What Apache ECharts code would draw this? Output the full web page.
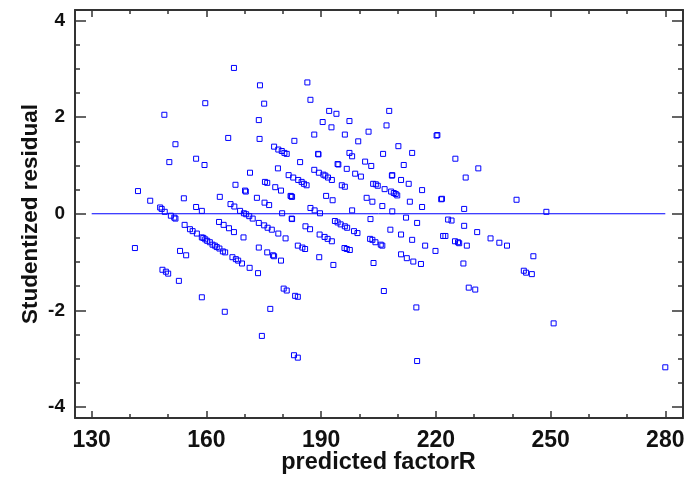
<!DOCTYPE html>
<html>
<head>
<meta charset="utf-8">
<script src="https://cdn.jsdelivr.net/npm/echarts@6/dist/echarts.min.js"></script>
<style>
html,body{margin:0;padding:0;background:#fff;}
#chart{width:685px;height:481px;}
</style>
</head>
<body>
<div id="chart"></div>
<script>
// predicted factorR (x) and studentized residual (y)
var predictedX = [
159.7,149.0,173.7,165.7,173.9,151.9,150.3,157.3,159.5,171.4,167.6,142.1,170.1,170.3,145.3,154.1,163.5,173.2,147.9,157.3,
166.3,167.3,148.3,149.1,158.8,168.8,169.8,170.4,171.2,172.1,150.7,151.6,151.9,163.3,164.5,173.7,154.3,155.7,156.4,157.5,
165.9,167.2,158.8,159.2,159.7,160.2,160.9,161.6,162.2,162.7,163.4,169.7,141.3,173.7,164.3,164.9,153.1,154.7,166.8,167.7,
168.3,169.3,171.3,173.5,148.5,149.4,150.0,152.8,158.8,164.8,174.0,186.4,175.1,187.2,192.1,194.0,190.4,197.4,192.7,202.4,
188.2,196.2,183.0,199.7,177.7,178.8,179.7,180.4,181.0,189.2,189.3,197.4,198.1,184.5,194.3,194.5,201.5,203.1,178.7,188.2,
189.4,190.6,191.1,191.8,192.8,196.7,181.5,182.7,184.0,184.9,185.5,186.2,198.9,200.4,175.3,175.9,195.4,196.2,203.6,204.3,
204.8,178.0,179.5,182.0,182.4,182.2,191.3,193.0,201.9,203.4,175.2,176.4,187.2,188.3,189.7,179.8,198.1,182.3,182.4,175.1,
176.0,177.1,185.9,187.1,193.6,194.3,195.1,196.2,196.8,202.9,178.8,198.6,199.5,180.7,189.6,190.9,191.7,192.8,202.8,203.4,
204.2,183.9,185.1,185.8,196.1,196.7,197.5,175.9,177.4,177.7,189.5,179.5,193.2,203.7,180.2,181.0,183.2,183.9,176.7,174.5,
182.9,183.9,207.8,207.1,220.2,220.4,210.2,206.2,213.8,225.1,211.6,231.1,208.5,208.6,227.8,210.9,212.9,206.6,216.4,208.3,
209.0,209.5,209.9,221.4,221.6,213.2,206.0,216.4,227.4,208.6,212.2,215.1,223.2,224.1,227.4,230.8,208.1,234.3,236.6,210.9,
205.6,206.0,213.8,217.2,221.9,222.5,225.0,225.8,226.1,228.1,219.9,210.9,212.4,214.1,216.1,227.2,206.4,228.6,230.3,214.9,
215.1,241.1,248.9,238.6,245.5,243.0,243.6,245.1,250.8,280.0,167.2
];
var residualY = [
2.29,2.05,1.94,1.57,1.55,1.44,1.07,1.14,1.01,0.85,0.60,0.47,0.48,0.46,0.27,0.32,0.35,0.33,0.13,0.14,
0.20,0.15,0.10,0.04,0.06,0.06,0.01,-0.01,-0.05,-0.10,-0.04,-0.08,-0.10,-0.17,-0.23,-0.19,-0.23,-0.32,-0.36,-0.41,
-0.30,-0.38,-0.49,-0.50,-0.53,-0.56,-0.59,-0.64,-0.66,-0.69,-0.72,-0.49,-0.71,-0.70,-0.78,-0.80,-0.77,-0.86,-0.90,-0.94,
-0.97,-1.03,-1.12,-1.23,-1.16,-1.20,-1.24,-1.39,-1.73,-2.03,2.66,2.72,2.28,2.36,2.13,2.07,1.90,1.92,1.79,1.70,
1.64,1.64,1.51,1.50,1.39,1.33,1.30,1.26,1.24,1.24,1.23,1.26,1.19,1.07,1.03,1.02,1.08,0.99,0.94,0.91,
0.85,0.81,0.79,0.75,0.70,0.93,0.80,0.75,0.70,0.66,0.62,0.59,0.83,0.77,0.66,0.64,0.59,0.56,0.62,0.61,
0.58,0.55,0.48,0.37,0.35,0.36,0.37,0.28,0.33,0.25,0.23,0.18,0.12,0.07,0.01,0.01,0.07,-0.10,-0.11,-0.24,
-0.29,-0.33,-0.26,-0.32,-0.15,-0.18,-0.22,-0.26,-0.29,-0.11,-0.41,-0.36,-0.40,-0.51,-0.43,-0.48,-0.52,-0.57,-0.52,-0.54,
-0.59,-0.66,-0.70,-0.73,-0.71,-0.73,-0.75,-0.80,-0.86,-0.88,-0.90,-0.97,-1.06,-1.02,-1.55,-1.59,-1.70,-1.72,-1.97,-2.53,
-2.93,-2.98,2.13,1.83,1.62,1.63,1.40,1.24,1.26,1.14,1.01,0.94,0.79,0.80,0.75,0.70,0.62,0.51,0.49,0.46,
0.43,0.41,0.38,0.30,0.31,0.25,0.16,0.14,0.10,0.05,-0.08,-0.19,-0.12,-0.14,-0.25,-0.38,-0.33,-0.51,-0.60,-0.43,
-0.64,-0.66,-0.54,-0.66,-0.46,-0.46,-0.57,-0.59,-0.61,-0.66,-0.77,-0.84,-0.92,-0.99,-1.04,-1.03,-1.60,-1.53,-1.57,-1.94,
-3.05,0.29,0.04,-0.66,-0.88,-1.18,-1.22,-1.25,-2.27,-3.18,3.02
];
var zeroLineX = [130, 280];
var zeroLineY = [0, 0];
var xTitle = 'predicted factorR';
var yTitle = 'Studentized residual';

var points = predictedX.map(function (x, i) { return [x, residualY[i]]; });
var zeroLine = zeroLineX.map(function (x, i) { return [x, zeroLineY[i]]; });

var FONT = '"Liberation Sans", Arial, sans-serif';
var AXIS_COLOR = '#333';
var TICK_X_MIN = 130, TICK_X_MAX = 280, X_STEP = 30;
var FRAME_X_MIN = 125.6, FRAME_X_MAX = 284.7;
var Y_MIN = -4.23, Y_MAX = 4.22;
var TOP = 10, BOTTOM = 63;

// grid 0: tick/data grid spanning 130..280; grid 1: the surrounding frame (125.6..284.7)
function tickXAxis(pos, main) {
  return {
    type: 'value', gridIndex: 0, position: pos, min: TICK_X_MIN, max: TICK_X_MAX, interval: X_STEP,
    name: main ? xTitle : '', nameLocation: 'middle', nameGap: 33, nameMoveOverlap: false,
    nameTextStyle: { fontFamily: FONT, fontWeight: 'bold', fontSize: 23.5, color: '#111' },
    axisLine: { show: false, onZero: false },
    axisTick: { show: true, inside: true, length: 7, lineStyle: { color: AXIS_COLOR, width: 1.5 } },
    minorTick: { show: true, splitNumber: 3, length: 4, lineStyle: { color: AXIS_COLOR, width: 1.5 } },
    axisLabel: { show: main, margin: 11, fontFamily: FONT, fontWeight: 'bold', fontSize: 23, color: '#111' },
    splitLine: { show: false }, minorSplitLine: { show: false }
  };
}
function frameXAxis(pos) {
  return {
    type: 'value', gridIndex: 1, position: pos, min: FRAME_X_MIN, max: FRAME_X_MAX,
    axisLine: { show: true, onZero: false, lineStyle: { color: AXIS_COLOR, width: 2 } },
    axisTick: { show: false }, axisLabel: { show: false }, splitLine: { show: false }
  };
}
function frameYAxis(pos, main) {
  return {
    type: 'value', gridIndex: 1, position: pos, min: Y_MIN, max: Y_MAX, splitNumber: 4,
    name: main ? yTitle : '', nameLocation: 'middle', nameGap: 33, nameRotate: 90, nameMoveOverlap: false,
    nameTextStyle: { fontFamily: FONT, fontWeight: 'bold', fontSize: 22.5, color: '#111' },
    axisLine: { show: true, onZero: false, lineStyle: { color: AXIS_COLOR, width: 2 } },
    axisTick: { show: true, inside: true, length: 11, lineStyle: { color: AXIS_COLOR, width: 1.5 } },
    minorTick: { show: true, splitNumber: 4, length: 5, lineStyle: { color: AXIS_COLOR, width: 1.5 } },
    axisLabel: { show: main, showMinLabel: false, showMaxLabel: false, margin: 10,
      fontFamily: FONT, fontWeight: 'bold', fontSize: 19, color: '#111' },
    splitLine: { show: false }, minorSplitLine: { show: false }
  };
}

var chart = echarts.init(document.getElementById('chart'), null, { renderer: 'canvas' });
chart.setOption({
  animation: false,
  backgroundColor: '#fff',
  grid: [
    { left: 91.7, right: 19.7, top: TOP, bottom: BOTTOM, containLabel: false, outerBoundsMode: 'none' },
    { left: 75, right: 2, top: TOP, bottom: BOTTOM, containLabel: false, outerBoundsMode: 'none' }
  ],
  xAxis: [tickXAxis('bottom', true), tickXAxis('top', false), frameXAxis('bottom'), frameXAxis('top')],
  yAxis: [
    { type: 'value', gridIndex: 0, min: Y_MIN, max: Y_MAX, show: false },
    frameYAxis('left', true), frameYAxis('right', false)
  ],
  series: [
    {
      type: 'line', data: zeroLine, xAxisIndex: 0, yAxisIndex: 0,
      symbol: 'none', lineStyle: { color: '#0000ff', width: 1 }, silent: true, z: 1
    },
    {
      type: 'scatter', data: points, xAxisIndex: 0, yAxisIndex: 0,
      symbol: 'rect', symbolSize: 5,
      itemStyle: { color: 'rgba(0,0,0,0)', borderColor: '#0000ff', borderWidth: 1, opacity: 1 },
      z: 2
    }
  ]
});
</script>
</body>
</html>
